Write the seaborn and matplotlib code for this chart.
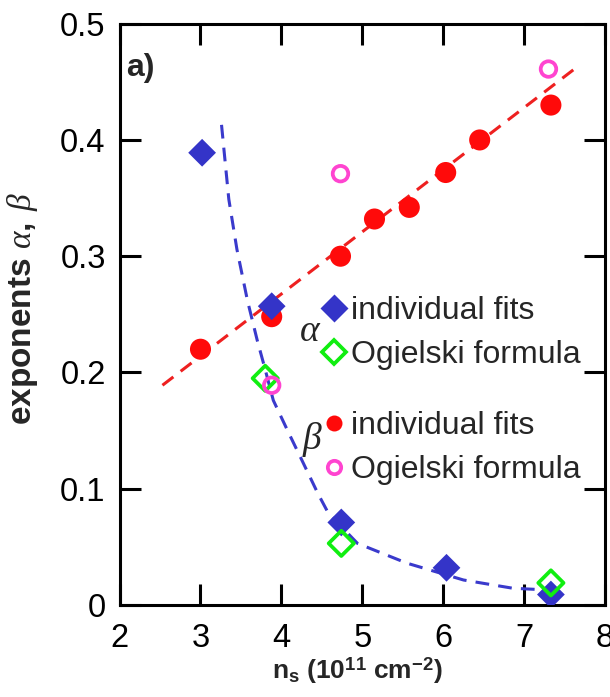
import matplotlib
matplotlib.use("Agg")
import matplotlib.pyplot as plt
import seaborn as sns
from matplotlib.lines import Line2D

# ---- data ----
alpha_fit_x = [3.02, 3.88, 4.74, 6.04, 7.33]
alpha_fit_y = [0.389, 0.257, 0.071, 0.032, 0.009]
alpha_ogi_x = [3.80, 4.74, 7.33]
alpha_ogi_y = [0.195, 0.053, 0.019]
beta_fit_x = [3.00, 3.88, 4.73, 5.15, 5.58, 6.03, 6.45, 7.33]
beta_fit_y = [0.220, 0.248, 0.300, 0.332, 0.342, 0.372, 0.400, 0.430]
beta_ogi_x = [3.88, 4.73, 7.30]
beta_ogi_y = [0.189, 0.371, 0.461]
alpha_curve_x = [3.26, 3.35, 3.45, 3.58, 3.70, 3.79, 3.90, 4.09, 4.25, 4.45, 4.58, 4.94, 5.55, 6.25, 6.86, 7.27]
alpha_curve_y = [0.413, 0.349, 0.306, 0.262, 0.228, 0.205, 0.176, 0.148, 0.125, 0.096, 0.079, 0.053, 0.036, 0.0215, 0.0144, 0.013]
beta_line_x = [2.53, 7.62]
beta_line_y = [0.189, 0.461]

x_ticks = [2, 3, 4, 5, 6, 7, 8]
y_ticks = [0, 0.1, 0.2, 0.3, 0.4, 0.5]
y_tick_labels = ["0", "0.1", "0.2", "0.3", "0.4", "0.5"]
legend_labels = ["individual fits", "Ogielski formula"]

BLUE = "#3434C8"
GREEN = "#10EE10"
RED = "#FF0A0A"
MAGENTA = "#FF44D0"
BLUE_LINE = "#3A3ACC"
RED_LINE = "#EE2020"

sns.set_theme(style="ticks")
plt.rcParams["font.family"] = ["Liberation Sans", "DejaVu Sans"]
plt.rcParams["mathtext.fontset"] = "custom"
plt.rcParams["mathtext.rm"] = "Liberation Sans:bold"
plt.rcParams["mathtext.bf"] = "Liberation Sans:bold"
plt.rcParams["mathtext.it"] = "Liberation Serif:italic"

fig = plt.figure(figsize=(6.1, 6.97), dpi=100)
ax = fig.add_axes([0.196, 0.132, 0.796, 0.834])

sns.lineplot(x=beta_line_x, y=beta_line_y, ax=ax, sort=False, color=RED_LINE,
             linewidth=2.2, linestyle=(0, (4.5, 3.0)), zorder=2)
sns.lineplot(x=alpha_curve_x, y=alpha_curve_y, ax=ax, sort=False, color=BLUE_LINE,
             linewidth=2.2, linestyle=(0, (4.5, 3.0)), zorder=2)

sns.scatterplot(x=beta_fit_x, y=beta_fit_y, ax=ax, marker="o", s=230,
                color=RED, edgecolor="none", zorder=3)
sns.scatterplot(x=alpha_fit_x, y=alpha_fit_y, ax=ax, marker="D", s=200,
                color=BLUE, edgecolor="none", zorder=4)
sns.scatterplot(x=alpha_ogi_x, y=alpha_ogi_y, ax=ax, marker="D", s=165,
                color=GREEN, facecolor="none", edgecolor=GREEN, linewidth=2.7, zorder=5)
sns.scatterplot(x=beta_ogi_x, y=beta_ogi_y, ax=ax, marker="o", s=125,
                color=MAGENTA, facecolor="none", edgecolor=MAGENTA, linewidth=2.7, zorder=6)

ax.set_xlim(2, 8)
ax.set_ylim(0, 0.5)
ax.set_xticks(x_ticks)
ax.set_yticks(y_ticks)
ax.set_yticklabels(y_tick_labels)
ax.tick_params(axis="both", which="major", direction="in", length=15, width=2.2,
               labelsize=23.5, top=True, right=True, colors="black")
ax.tick_params(axis="y", pad=10)
ax.tick_params(axis="x", pad=13)
for sp in ax.spines.values():
    sp.set_linewidth(2.2)
    sp.set_color("black")

ax.set_xlabel(r"n$_\mathrm{s}$ (10$^\mathrm{11}$ cm$^\mathrm{-2}$)", fontsize=19,
              fontweight="bold")
ax.xaxis.label.set_va("baseline")
ax.xaxis.set_label_coords(0.49, -0.127)
ax.set_ylabel(r"exponents $\alpha,\;\beta$", fontsize=24, fontweight="bold")
ax.yaxis.set_label_coords(-0.163, 0.51)

ax.text(0.014, 0.924, "a)", transform=ax.transAxes, fontsize=23, fontweight="bold",
        va="center", ha="left")

h1 = [Line2D([], [], marker="D", ls="none", color=BLUE, mec="none", ms=14.2),
      Line2D([], [], marker="D", ls="none", color=GREEN, mfc="none", mec=GREEN, mew=2.7, ms=12.2)]
h2 = [Line2D([], [], marker="o", ls="none", color=RED, mec="none", ms=11.5),
      Line2D([], [], marker="o", ls="none", color=MAGENTA, mfc="none", mec=MAGENTA, mew=2.7, ms=9.6)]
leg_kw = dict(frameon=False, prop={"size": 23}, handlelength=0.8, handletextpad=0.15,
              borderpad=0, borderaxespad=0, labelspacing=0.45, loc="upper left")
leg1 = ax.legend(h1, legend_labels, bbox_to_anchor=(4.49, 0.266),
                 bbox_transform=ax.transData, **leg_kw)
ax.add_artist(leg1)
ax.legend(h2, legend_labels, bbox_to_anchor=(4.49, 0.167),
          bbox_transform=ax.transData, **leg_kw)

ax.text(4.36, 0.236, r"$\alpha$", fontsize=27, ha="center", va="center")
ax.text(4.38, 0.142, r"$\beta$", fontsize=27, ha="center", va="center")

fig.savefig("out.png", dpi=100)
